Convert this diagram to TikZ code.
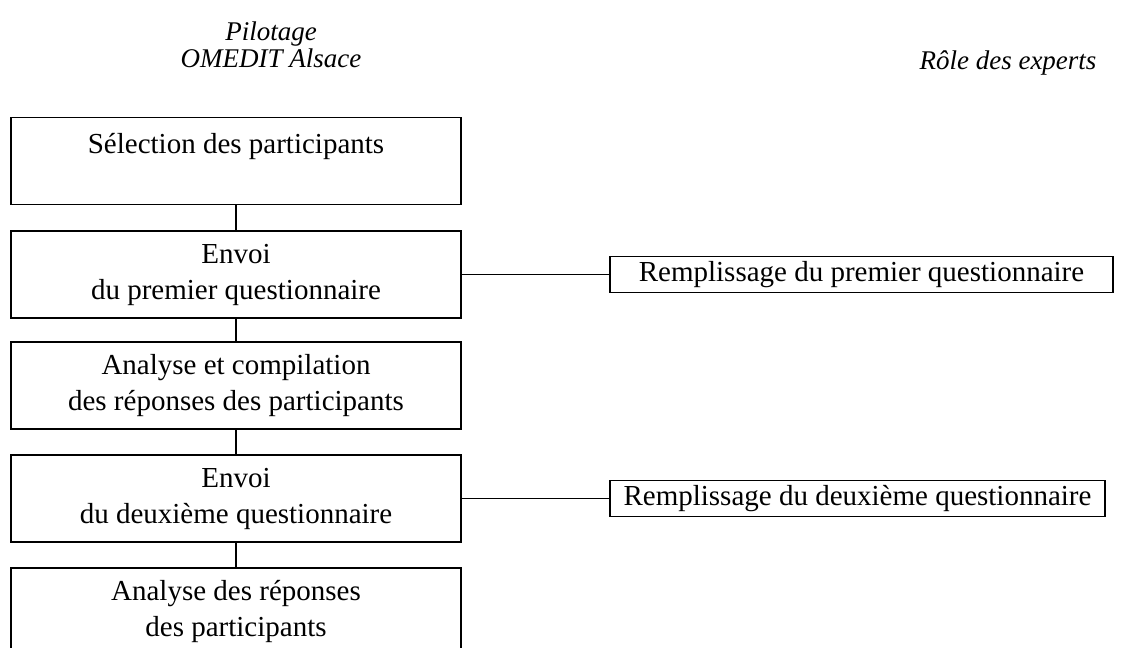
\documentclass[tikz,border=0pt]{standalone}
\usepackage{fontspec}
\setmainfont{Liberation Serif}
\usetikzlibrary{positioning}

\begin{document}
\begin{tikzpicture}[x=1pt, y=1pt,
  font=\fontsize{29}{36}\selectfont,
  bx/.style={draw, line width=1.4pt, align=center, inner sep=0pt,
             minimum width=450pt, minimum height=87pt},
  rx/.style={draw, line width=1.4pt, align=center, inner sep=0pt,
             minimum height=36pt},
  hd/.style={font=\fontsize{27}{27}\selectfont\itshape, align=center},
  ln/.style={line width=1.4pt}]

\useasboundingbox (0,0) rectangle (1125,-648);

% --- column headings ---
\node[hd] (hpil) at (271,-45) {Pilotage\\[0pt]OMEDIT Alsace};
\node[hd] (hexp) at (1008,-63) {Rôle des experts};

% --- steps of the pilot ---
\node[bx] (sel)  at (236,-161)   {Sélection des participants\\\mbox{}};
\node[bx] (env1) at (236,-274.5) {Envoi\\du premier questionnaire};
\node[bx] (ana1) at (236,-385.5) {Analyse et compilation\\des réponses des participants};
\node[bx] (env2) at (236,-498.5) {Envoi\\du deuxième questionnaire};
\node[bx] (ana2) at (236,-611.5) {Analyse des réponses\\des participants};

% --- experts ---
\node[rx, minimum width=503pt] (rem1) at (861.5,-274.5) {Remplissage du premier questionnaire};
\node[rx, minimum width=495pt] (rem2) at (857.5,-498.5) {Remplissage du deuxième questionnaire};

\draw[ln](sel)--(env1); \draw[ln](env1)--(ana1);
\draw[ln](ana1)--(env2); \draw[ln](env2)--(ana2);
\draw[ln](env1.east)--(rem1.west);
\draw[ln](env2.east)--(rem2.west);
\end{tikzpicture}
\end{document}
